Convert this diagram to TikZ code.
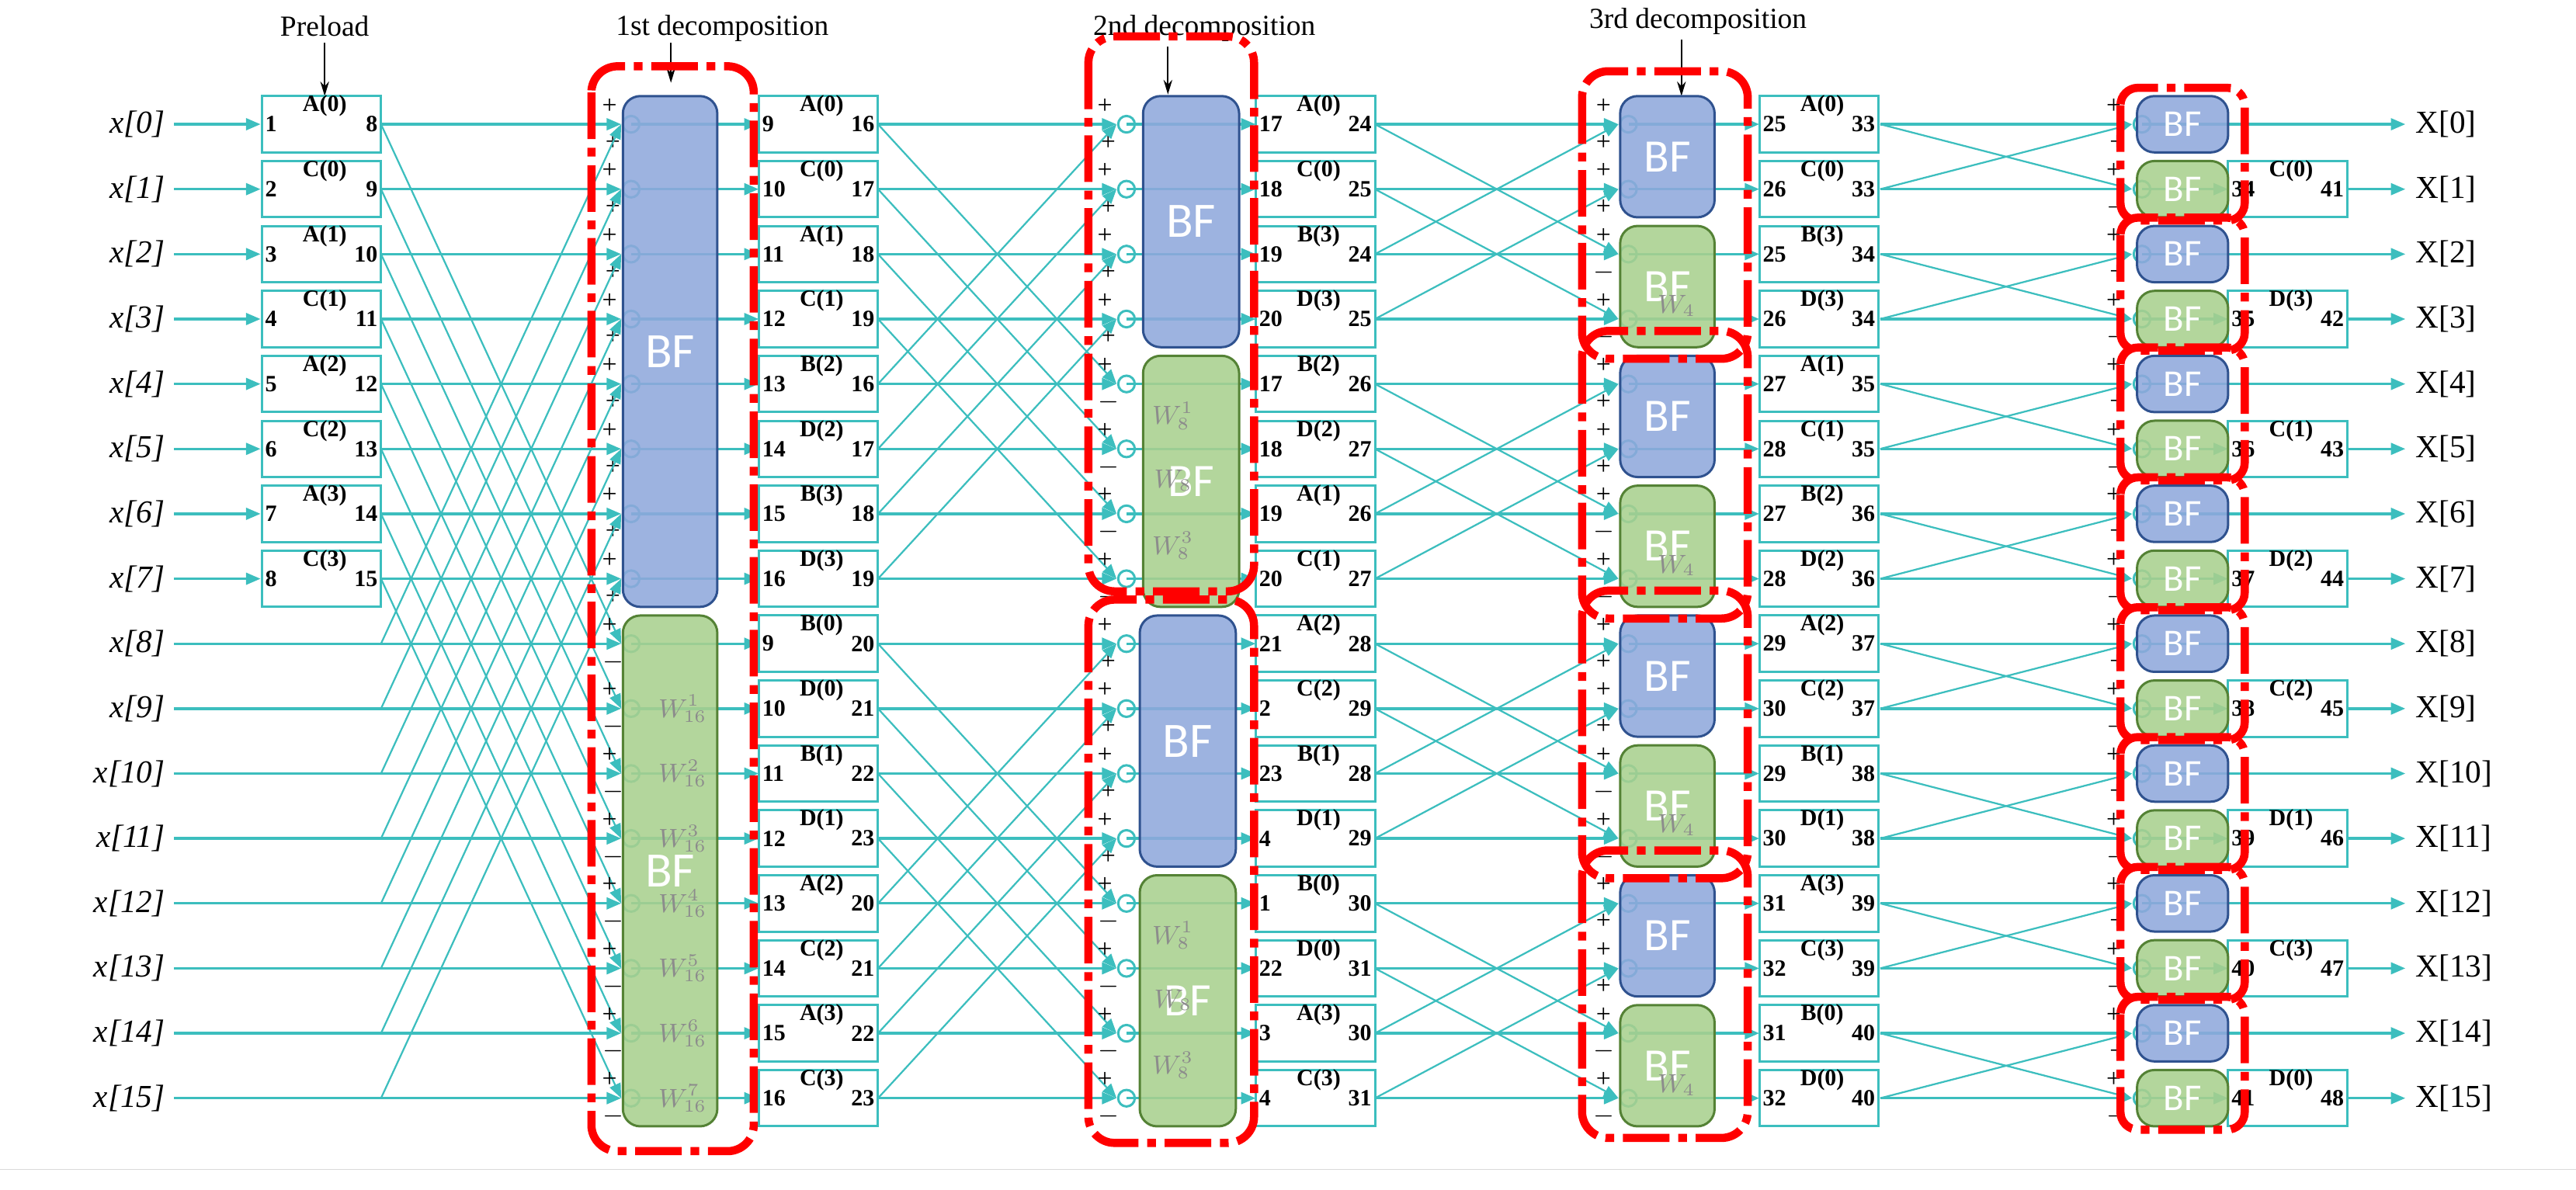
\documentclass[tikz,border=0pt]{standalone}
\usepackage{fontspec}
\setmainfont{Liberation Serif}
\newfontfamily\bff{Carlito}
\usetikzlibrary{arrows.meta}
\definecolor{tl}{RGB}{60,190,190}
\definecolor{bfill}{RGB}{143,168,220}
\definecolor{bdraw}{RGB}{47,82,143}
\definecolor{gfill}{RGB}{169,208,142}
\definecolor{gdraw}{RGB}{84,130,53}
\definecolor{wgray}{RGB}{140,140,140}
\newcommand\lbx[7]{% name, xleft, row, label, lnum, rnum
  \pgfmathsetmacro\yy{75+39.2*#3}
  \node[lbox] (#1) at ({#2+36},\yy) {};
  \node[font=\fontsize{8}{8}\selectfont\bfseries,inner sep=0pt] at ({#2+38},\yy-11) {#4};
  \node[numf,anchor=west] at (#2,\yy) {#5};
  \node[numf,anchor=east] at (#2+72,\yy) {#6};}
\newcommand\bfb[7]{% name, x1, x2, rowfirst, rowlast, b/g, fontsize
  \pgfmathsetmacro\ya{75+39.2*#4-17}
  \pgfmathsetmacro\yb{75+39.2*#5+17}
  \draw[draw=#6draw,fill=#6fill,fill opacity=0.88,line width=0.8pt,rounded corners=6pt] (#2,\ya) rectangle (#3,\yb);
  \node[text=white,font=\bff\fontsize{#7}{#7}\selectfont] (#1) at ({(#2+#3)/2},{(\ya+\yb)/2}) {BF};}
\begin{document}
\begin{tikzpicture}[x=0.02cm,y=-0.02cm,
  wire/.style={tl,line width=0.9pt},
  arr/.style={wire,-{Triangle[length=5pt,width=4pt]}},
  darr/.style={tl,line width=0.6pt,-{Triangle[length=5pt,width=4pt]}},
  lbox/.style={draw=tl,line width=0.8pt,minimum width=1.44cm,minimum height=0.68cm,inner sep=0pt},
  numf/.style={font=\fontsize{8}{8}\selectfont\bfseries,inner sep=1pt},
  sgn/.style={font=\fontsize{9}{9}\selectfont,inner sep=0pt},
  wl/.style={text=wgray,font=\fontsize{9}{9}\selectfont,inner sep=0pt},
  redbox/.style={draw=red,line width=2.8pt,rounded corners=9pt,dash pattern=on 16pt off 3pt on 3pt off 3pt},
  ttl/.style={font=\fontsize{10}{10}\selectfont,inner sep=0pt},
  tarr/.style={black,line width=0.6pt,-{Stealth[length=5pt,width=3pt]}}]
\useasboundingbox (0,0) rectangle (1555,718);
\draw[black!15,line width=0.5pt] (0,706) -- (1555,706);
% coordinates
\foreach \i in {0,...,15}{
  \pgfmathsetmacro\yy{75+39.2*\i}
  \coordinate (in\i) at (105,\yy);
  \coordinate (p1\i) at (230,\yy);
  \coordinate (e1\i) at (375,\yy); \coordinate (c1\i) at (381,\yy);
  \coordinate (b1\i) at (458,\yy); \coordinate (o1\i) at (530,\yy);
  \coordinate (e2\i) at (674,\yy); \coordinate (c2\i) at (680,\yy);
  \coordinate (b2\i) at (758,\yy); \coordinate (o2\i) at (830,\yy);
  \coordinate (e3\i) at (977,\yy); \coordinate (c3\i) at (983,\yy);
  \coordinate (b3\i) at (1062,\yy); \coordinate (o3\i) at (1135,\yy);
  \coordinate (e4\i) at (1287,\yy); \coordinate (c4\i) at (1293,\yy);
  \coordinate (ob\i) at (1345,\yy);
  \coordinate (out\i) at (1452,\yy);
  \node[anchor=east,font=\fontsize{11}{11}\selectfont\itshape,inner sep=0pt] (xl\i) at (100,\yy) {x[\i]};
  \node[anchor=west,font=\fontsize{11}{11}\selectfont,inner sep=0pt] (Xl\i) at (1458,\yy) {X[\i]};
}
% titles
\node[ttl] (t0) at (196,16) {Preload};
\node[ttl] (t1) at (436,17) {1st decomposition};
\node[ttl] (t2) at (727,17) {2nd decomposition};
\node[ttl] (t3) at (1025,13) {3rd decomposition};
\coordinate (a0) at (196,58); \coordinate (a1) at (405,50);
\coordinate (a2) at (705,57); \coordinate (a3) at (1015,58);
\coordinate (s0) at (196,26); \coordinate (s1) at (405,26);
\coordinate (s2) at (705,28); \coordinate (s3) at (1015,24);
\foreach \k in {0,...,3}{\draw[tarr] (s\k) -- (a\k);}
% preload boxes
\foreach \i/\l in {0/A(0),1/C(0),2/A(1),3/C(1),4/A(2),5/C(2),6/A(3),7/C(3)}{
  \pgfmathtruncatemacro\a{\i+1}\pgfmathtruncatemacro\b{\i+8}
  \lbx{pl\i}{158}{\i}{\l}{\a}{\b}{}
  \draw[arr] (in\i) -- (pl\i.west);
}
% stage 1 wires
\foreach \i in {0,...,15}{
  \pgfmathtruncatemacro\p{mod(\i+8,16)}
  \ifnum\i<8 \draw[arr] (p1\i) -- (e1\i); \else \draw[arr] (in\i) -- (e1\i); \fi
  \draw[darr] (p1\i) -- (e1\p);
  \draw[tl,line width=0.8pt] (c1\i) circle (5);
  \draw[arr] (c1\i) -- (b1\i);
  \pgfmathsetmacro\yy{75+39.2*\i}
  \node[sgn] at (368,\yy-11) {+};
  \ifnum\i<8 \node[sgn] at (370,\yy+11) {+}; \else \node[sgn] at (370,\yy+11) {$-$}; \fi
}
% stage 2 wires
\foreach \i in {0,...,15}{
  \pgfmathtruncatemacro\p{\i+(mod(\i,8)<4 ? 4 : -4)}
  \draw[arr] (o1\i) -- (e2\i);
  \draw[darr] (o1\i) -- (e2\p);
  \draw[tl,line width=0.8pt] (c2\i) circle (5);
  \draw[arr] (c2\i) -- (b2\i);
  \pgfmathsetmacro\yy{75+39.2*\i}
  \pgfmathtruncatemacro\m{mod(\i,8)}
  \node[sgn] at (667,\yy-11) {+};
  \ifnum\m<4 \node[sgn] at (669,\yy+11) {+}; \else \node[sgn] at (669,\yy+11) {$-$}; \fi
}
% stage 3 wires
\foreach \i in {0,...,15}{
  \pgfmathtruncatemacro\p{\i+(mod(\i,4)<2 ? 2 : -2)}
  \draw[arr] (o2\i) -- (e3\i);
  \draw[darr] (o2\i) -- (e3\p);
  \draw[tl,line width=0.8pt] (c3\i) circle (5);
  \draw[arr] (c3\i) -- (b3\i);
  \pgfmathsetmacro\yy{75+39.2*\i}
  \pgfmathtruncatemacro\m{mod(\i,4)}
  \node[sgn] at (968,\yy-11) {+};
  \ifnum\m<2 \node[sgn] at (968,\yy+11) {+}; \else \node[sgn] at (968,\yy+11) {$-$}; \fi
}
% stage 4 wires
\foreach \i in {0,...,15}{
  \pgfmathtruncatemacro\p{\i+(mod(\i,2)<1 ? 1 : -1)}
  \pgfmathtruncatemacro\m{mod(\i,2)}
  \draw[arr] (o3\i) -- (e4\i);
  \draw[darr] (o3\i) -- (e4\p);
  \draw[tl,line width=0.8pt] (c4\i) circle (5);
  \pgfmathsetmacro\yy{75+39.2*\i}
  \node[sgn] at (1276,\yy-11) {+};
  \ifnum\m<1 \node[sgn] at (1278,\yy+11) {+}; \draw[arr] (c4\i) -- (out\i);
  \else \node[sgn] at (1278,\yy+11) {$-$}; \draw[arr] (c4\i) -- (ob\i); \fi
}
% stage output boxes
\foreach \i/\l/\a/\b in {0/A(0)/9/16,1/C(0)/10/17,2/A(1)/11/18,3/C(1)/12/19,4/B(2)/13/16,5/D(2)/14/17,6/B(3)/15/18,7/D(3)/16/19,8/B(0)/9/20,9/D(0)/10/21,10/B(1)/11/22,11/D(1)/12/23,12/A(2)/13/20,13/C(2)/14/21,14/A(3)/15/22,15/C(3)/16/23}{
  \lbx{q1\i}{458}{\i}{\l}{\a}{\b}{}
}
\foreach \i/\l/\a/\b in {0/A(0)/17/24,1/C(0)/18/25,2/B(3)/19/24,3/D(3)/20/25,4/B(2)/17/26,5/D(2)/18/27,6/A(1)/19/26,7/C(1)/20/27,8/A(2)/21/28,9/C(2)/2/29,10/B(1)/23/28,11/D(1)/4/29,12/B(0)/1/30,13/D(0)/22/31,14/A(3)/3/30,15/C(3)/4/31}{
  \lbx{q2\i}{758}{\i}{\l}{\a}{\b}{}
}
\foreach \i/\l/\a/\b in {0/A(0)/25/33,1/C(0)/26/33,2/B(3)/25/34,3/D(3)/26/34,4/A(1)/27/35,5/C(1)/28/35,6/B(2)/27/36,7/D(2)/28/36,8/A(2)/29/37,9/C(2)/30/37,10/B(1)/29/38,11/D(1)/30/38,12/A(3)/31/39,13/C(3)/32/39,14/B(0)/31/40,15/D(0)/32/40}{
  \lbx{q3\i}{1062}{\i}{\l}{\a}{\b}{}
}
\foreach \i/\l/\a/\b in {1/C(0)/34/41,3/D(3)/35/42,5/C(1)/36/43,7/D(2)/37/44,9/C(2)/38/45,11/D(1)/39/46,13/C(3)/40/47,15/D(0)/41/48}{
  \lbx{q4\i}{1345}{\i}{\l}{\a}{\b}{}
  \draw[arr] (q4\i.east) -- (out\i);
}
% BF boxes
\bfb{bf10}{376}{433}{0}{7}{b}{17}
\bfb{bf11}{376}{433}{8}{15}{g}{17}
\foreach \k in {1,...,7}{
  \pgfmathsetmacro\yy{75+39.2*(\k+8)}
  \node[wl] at (412,\yy) {$W_{16}^{\k}$};
}
\bfb{bf20}{690}{748}{0}{3}{b}{17}
\bfb{bf21}{690}{748}{4}{7}{g}{16}
\bfb{bf22}{688}{746}{8}{11}{b}{17}
\bfb{bf23}{688}{746}{12}{15}{g}{16}
\foreach \b in {4,12}{
  \pgfmathsetmacro\ya{75+39.2*(\b+1)-20}
  \pgfmathsetmacro\yb{75+39.2*(\b+2)-20}
  \pgfmathsetmacro\yc{75+39.2*(\b+3)-20}
  \node[wl] at (708,\ya) {$W_{8}^{1}$};
  \node[wl] at (708,\yb) {$W_{8}$};
  \node[wl] at (708,\yc) {$W_{8}^{3}$};
}
\foreach \g in {0,...,7}{
  \pgfmathtruncatemacro\ra{2*\g}\pgfmathtruncatemacro\rb{2*\g+1}
  \pgfmathtruncatemacro\m{mod(\g,2)}
  \ifnum\m=0 \bfb{bf3\g}{978}{1035}{\ra}{\rb}{b}{16}
  \else \bfb{bf3\g}{978}{1035}{\ra}{\rb}{g}{16}
    \pgfmathsetmacro\yy{75+39.2*\rb-8}
    \node[wl] at (1012,\yy) {$W_{4}$};
  \fi
}
\foreach \i in {0,...,15}{
  \pgfmathtruncatemacro\m{mod(\i,2)}
  \ifnum\m=0 \bfb{bf4\i}{1290}{1345}{\i}{\i}{b}{13}
  \else \bfb{bf4\i}{1290}{1345}{\i}{\i}{g}{13}\fi
}
% red dashed outlines
\draw[redbox] (357,40) rectangle (455,695);
\draw[redbox] (657,22) rectangle (757,357);
\draw[redbox] (657,362) rectangle (757,690);
\foreach \g in {0,...,3}{
  \pgfmathsetmacro\ya{75+39.2*(4*\g)-32}
  \pgfmathsetmacro\yb{75+39.2*(4*\g+3)+24}
  \draw[redbox] (955,\ya) rectangle (1055,\yb);
}
\foreach \g in {0,...,7}{
  \pgfmathsetmacro\ya{75+39.2*(2*\g)-22}
  \pgfmathsetmacro\yb{75+39.2*(2*\g+1)+19}
  \draw[redbox,rounded corners=6pt] (1280,\ya) rectangle (1355,\yb);
}
\end{tikzpicture}
\end{document}
